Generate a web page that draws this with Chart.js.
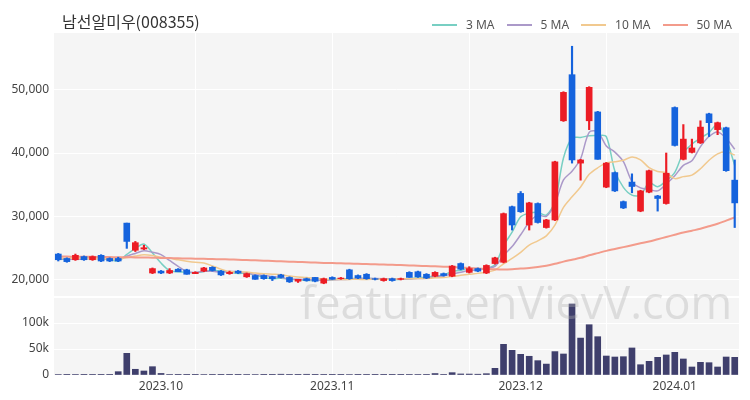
<!DOCTYPE html>
<html>
<head>
<meta charset="utf-8">
<script src="https://cdn.jsdelivr.net/npm/chart.js@4.4.0/dist/chart.umd.min.js"></script>
<style>
    body { margin: 0; background: #ffffff; }
    #wrap { position: relative; width: 750px; height: 400px; overflow: hidden; }
    #grafico { position: absolute; left: 0; top: 0; }
    #titulo { position: absolute; left: 62px; top: 10px; font-family: 'Noto Sans CJK KR', 'Noto Sans', sans-serif; font-size: 16px; color: #333333; line-height: 22px; }
    #legenda { position: absolute; left: 432px; top: 17px; display: flex; font-family: 'Noto Sans', sans-serif; font-size: 12px; color: #555555; line-height: 16px; }
    .item { display: flex; align-items: center; margin-right: 12px; }
    .linha { width: 25px; height: 2px; margin-right: 9px; }
    #marca { position: absolute; left: 300px; top: 279px; font-family: 'Open Sans', sans-serif; font-size: 45px; line-height: 1; color: rgba(175, 175, 175, 0.35); pointer-events: none; white-space: nowrap; }
</style>
</head>
<body>
<div id="wrap">
    <canvas id="grafico" width="750" height="400"></canvas>
    <div id="titulo">남선알미우(008355)</div>
    <div id="legenda"></div>
    <div id="marca">feature.enVievV.com</div>
</div>
<script>
var datas = [
    '2023-09-12','2023-09-13','2023-09-14','2023-09-15','2023-09-18','2023-09-19','2023-09-20','2023-09-21','2023-09-22','2023-09-25',
    '2023-09-26','2023-09-27','2023-10-04','2023-10-05','2023-10-06','2023-10-10','2023-10-11','2023-10-12','2023-10-13','2023-10-16',
    '2023-10-17','2023-10-18','2023-10-19','2023-10-20','2023-10-23','2023-10-24','2023-10-25','2023-10-26','2023-10-27','2023-10-30',
    '2023-10-31','2023-11-01','2023-11-02','2023-11-03','2023-11-06','2023-11-07','2023-11-08','2023-11-09','2023-11-10','2023-11-13',
    '2023-11-14','2023-11-15','2023-11-16','2023-11-17','2023-11-20','2023-11-21','2023-11-22','2023-11-23','2023-11-24','2023-11-27',
    '2023-11-28','2023-11-29','2023-11-30','2023-12-01','2023-12-04','2023-12-05','2023-12-06','2023-12-07','2023-12-08','2023-12-11',
    '2023-12-12','2023-12-13','2023-12-14','2023-12-15','2023-12-18','2023-12-19','2023-12-20','2023-12-21','2023-12-22','2023-12-26',
    '2023-12-27','2023-12-28','2024-01-02','2024-01-03','2024-01-04','2024-01-05','2024-01-08','2024-01-09','2024-01-10','2024-01-11'
];

var abertura = [
    24000,23300,23100,23600,23100,23800,23300,23300,28900,24600,
    24800,21000,21300,21000,21600,21500,20900,21300,21900,21300,
    20900,21300,20400,20600,20600,20400,20700,20300,19700,20100,
    20300,19400,20300,20100,21500,20600,20800,20100,19800,20100,
    20000,21100,21200,20800,20500,20900,20500,22500,21100,21700,
    21000,22500,22700,31500,33600,28600,32000,28200,29400,45100,
    52400,38400,45100,46500,34600,36900,32300,35400,30800,33800,
    33200,32000,47200,39000,40100,41600,46200,43700,44000,35700
];
var maxima = [
    24100,23400,24000,23700,23700,23900,23400,23500,28900,26000,
    25400,21800,21400,21700,21700,21600,21200,21900,22000,21400,
    21300,21400,21000,20700,20700,20500,20800,20400,20000,20200,
    20300,20200,20400,20300,21600,20700,20900,20200,20200,20200,
    20200,21200,21300,20900,21200,21000,22200,22600,22000,21800,
    22300,23500,30500,31600,33900,32200,32100,29500,38700,49700,
    56900,39000,50500,46600,38500,37000,32400,36700,34100,37300,
    33300,40000,47300,44500,42200,45100,46300,44900,44100,38900
];
var minima = [
    22900,22700,23000,23000,23000,22800,22800,22800,24900,24400,
    24700,20900,20900,20900,21200,20800,20900,21200,21300,20600,
    20800,20900,20300,20000,20000,19800,20200,19500,19500,19700,
    19600,19300,20000,20000,20000,20100,20000,19900,19700,19700,
    19900,20300,20300,20100,20400,20500,20400,21500,21000,21200,
    20900,22400,22600,27800,30600,27800,28900,28100,29300,45000,
    38400,35700,43700,39000,34500,33900,31200,33700,30700,33700,
    30800,31900,41100,38900,40000,41500,42600,42900,37100,28200
];
var fechamento = [
    23100,22800,23800,23100,23600,22900,22900,22900,26000,25800,
    25000,21700,21000,21400,21200,20800,21100,21800,21400,20700,
    21100,21000,20900,20000,20100,20100,20300,19600,20000,19800,
    19700,20100,20000,20200,20100,20200,20100,20000,20100,19800,
    20100,20300,20400,20200,21100,20600,22100,21600,21700,21300,
    22200,23400,30400,28600,30700,32100,29000,29400,38600,49600,
    38900,38900,50400,39000,38400,34000,31300,34700,34000,37200,
    32800,36800,41200,42200,40800,44100,44800,44800,37200,32100
];
var volume = [
    900,600,800,500,700,600,500,6400,41700,11000,
    7700,16000,3000,800,600,500,400,900,700,600,
    400,500,800,900,600,500,1500,700,500,1400,
    600,700,500,400,900,600,700,400,500,300,
    600,1200,800,700,2800,1200,4500,2000,1800,1500,
    2500,12800,59000,47500,39800,36000,27600,21000,45000,40400,
    136500,71000,96700,73700,36500,34600,35200,52000,19800,26300,
    34000,38500,43600,30800,15400,24400,23700,15400,34600,34000
];

var ma3 = [
    23300,23100,23233,23233,23500,23200,23133,22900,23933,24900,
    25600,24167,22567,21367,21200,21133,21033,21233,21433,21300,
    21067,20933,21000,20633,20333,20067,20167,20000,19967,19800,
    19833,19867,19933,20100,20100,20167,20133,20100,20067,19967,
    20000,20067,20267,20300,20567,20633,21267,21433,21800,21533,
    21733,22300,25333,27467,29900,30467,30600,30167,32333,39200,
    42367,42467,42733,42767,42600,37133,34567,33333,33333,35300,
    34667,35600,36933,40067,41400,42367,43233,44567,42267,38033
];
var ma5 = [
    23300,23200,23200,23200,23280,23240,23260,23080,23660,24100,
    24520,24280,23900,22980,22060,21220,21100,21260,21260,21160,
    21220,21200,21020,20740,20620,20420,20280,20020,20020,19960,
    19880,19840,19920,19960,20020,20120,20120,20120,20100,20040,
    20020,20060,20140,20160,20420,20520,20880,21120,21420,21460,
    21780,22040,23800,25180,27060,29040,30160,29960,31960,35740,
    37100,39080,43280,43360,41120,40140,38620,35480,34480,34240,
    34000,35100,36400,38040,38760,41020,42620,43340,42340,40600
];
var ma10 = [
    23400,23350,23350,23300,23300,23250,23250,23200,23450,23690,
    23880,23770,23490,23320,23080,22870,22690,22580,22120,21610,
    21220,21150,21140,21000,20890,20820,20740,20520,20380,20290,
    20150,20060,19970,19990,19990,20000,19980,20020,20030,20030,
    20070,20090,20130,20130,20230,20270,20470,20630,20790,20940,
    21150,21460,22460,23300,24260,25410,26100,26880,28570,31400,
    33070,34620,36620,37660,38430,38620,38850,39380,38920,37680,
    37070,36860,35940,36260,36500,37510,38860,39870,40190,39680
];
var ma50 = [
    23600,23600,23580,23570,23560,23540,23520,23500,23480,23470,
    23450,23420,23390,23360,23330,23300,23270,23240,23210,23180,
    23150,23100,23050,23000,22950,22900,22850,22800,22750,22700,
    22650,22600,22570,22540,22500,22460,22420,22380,22340,22300,
    22250,22200,22150,22100,22050,22000,21950,21880,21800,21720,
    21650,21580,21550,21600,21700,21800,21950,22150,22450,22800,
    23100,23400,23800,24150,24500,24800,25100,25400,25700,26000,
    26350,26700,27050,27400,27700,28000,28400,28800,29300,29800
];

// rotulos do eixo x, ticks dos eixos y e linhas verticais da grade
var mesesIdx = [12, 32, 54, 72];
var mesesTxt = ['2023.10', '2023.11', '2023.12', '2024.01'];
var precoTicks = [20000, 30000, 40000, 50000];
var volTicks = [0, 50000, 100000];
var gradeIdx = [16, 32, 48, 64];

var corSobe = '#ec1c24';
var corDesce = '#1563dd';

var medias = [
    { label: '3 MA', data: ma3, cor: '#78cfc3', largura: 1.5 },
    { label: '5 MA', data: ma5, cor: '#ab99c9', largura: 1.5 },
    { label: '10 MA', data: ma10, cor: '#f1c98f', largura: 1.5 },
    { label: '50 MA', data: ma50, cor: '#f39b8b', largura: 2 }
];

// legenda em html
var legenda = document.getElementById('legenda');
medias.forEach(function (m) {
    legenda.innerHTML += `<div class="item"><span class="linha" style="background:${m.cor}"></span>${m.label}</div>`;
});

var corCandle = [];
var corpo = [];
var pavio = [];
for (var i = 0; i < datas.length; i++) {
    corCandle.push(fechamento[i] >= abertura[i] ? corSobe : corDesce);
    corpo.push([abertura[i], fechamento[i]]);
    pavio.push([minima[i], maxima[i]]);
}

var fundoPainel = {
    id: 'fundoPainel',
    beforeDraw: function (chart) {
        var ctx = chart.ctx;
        var area = chart.chartArea;
        var sy = chart.scales.y;
        var sv = chart.scales.yVol;
        ctx.save();
        ctx.fillStyle = '#f5f5f5';
        ctx.fillRect(area.left, sy.top, area.right - area.left, sy.bottom - sy.top - 1);
        ctx.fillRect(area.left, sv.top + 1, area.right - area.left, sv.bottom - sv.top - 1);
        ctx.restore();
    }
};

var datasetsMedias = medias.map(function (m, idx) {
    return {
        type: 'line',
        label: m.label,
        data: m.data,
        borderColor: m.cor,
        borderWidth: m.largura,
        pointRadius: 0,
        tension: 0.3,
        yAxisID: 'y',
        order: 5 - idx
    };
});

function fixarTicks(lista) {
    return function (s) {
        s.ticks = lista.map(function (v) { return { value: v }; });
    };
}

var grafico = new Chart(document.getElementById('grafico').getContext('2d'), {
    data: {
        labels: datas,
        datasets: [
            {
                type: 'bar',
                label: 'corpo',
                data: corpo,
                backgroundColor: corCandle,
                barThickness: 6,
                grouped: false,
                yAxisID: 'y',
                order: 0
            },
            {
                type: 'bar',
                label: 'pavio',
                data: pavio,
                backgroundColor: corCandle,
                barThickness: 1.5,
                grouped: false,
                yAxisID: 'y',
                order: 1
            },
            {
                type: 'bar',
                label: 'volume',
                data: volume,
                backgroundColor: '#3f3f6c',
                barThickness: 6,
                grouped: false,
                yAxisID: 'yVol',
                order: 0
            }
        ].concat(datasetsMedias)
    },
    options: {
        responsive: false,
        animation: false,
        devicePixelRatio: 1,
        layout: { padding: { left: 0, right: 11, top: 33, bottom: 0 } },
        plugins: {
            legend: { display: false },
            title: { display: false },
            tooltip: { enabled: false }
        },
        scales: {
            x: {
                type: 'category',
                offset: true,
                border: { display: false },
                grid: {
                    offset: false,
                    drawTicks: false,
                    color: function (c) {
                        return gradeIdx.indexOf(c.index) >= 0 ? '#ffffff' : 'rgba(0,0,0,0)';
                    }
                },
                ticks: {
                    autoSkip: false,
                    maxRotation: 0,
                    padding: 4,
                    color: '#444444',
                    font: { family: 'Noto Sans', size: 12 },
                    callback: function (valor, index) {
                        var p = mesesIdx.indexOf(index);
                        return p >= 0 ? mesesTxt[p] : '';
                    }
                },
                afterFit: function (s) { s.height = 25; }
            },
            yVol: {
                position: 'left',
                stack: 'painel',
                stackWeight: 78,
                min: 0,
                max: 150000,
                border: { display: false },
                grid: { color: '#ffffff', drawTicks: false },
                afterBuildTicks: fixarTicks(volTicks),
                ticks: {
                    padding: 5,
                    color: '#444444',
                    font: { family: 'Noto Sans', size: 12 },
                    callback: function (v) { return v == 0 ? '0' : (v / 1000) + 'k'; }
                },
                afterFit: function (s) { s.width = 54; }
            },
            y: {
                position: 'left',
                stack: 'painel',
                stackWeight: 264,
                min: 17200,
                max: 59000,
                border: { display: false },
                grid: { color: '#ffffff', drawTicks: false },
                afterBuildTicks: fixarTicks(precoTicks),
                ticks: {
                    padding: 5,
                    color: '#444444',
                    font: { family: 'Noto Sans', size: 12 },
                    callback: function (v) { return v.toLocaleString('en-US'); }
                },
                afterFit: function (s) { s.width = 54; }
            }
        }
    },
    plugins: [fundoPainel]
});
</script>
</body>
</html>
